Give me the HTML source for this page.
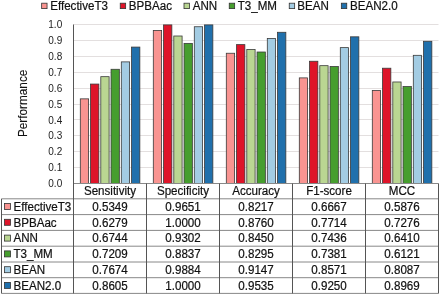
<!DOCTYPE html><html><head><meta charset="utf-8"><style>html,body{margin:0;padding:0;background:#fff;width:440px;height:295px;overflow:hidden}svg{display:block;filter:blur(0.3px)}text{font-family:"Liberation Sans",sans-serif;fill:#111;stroke:#111;stroke-width:0.2px}text.n{stroke:none;fill:#222}text.t{stroke-width:0.12px}</style></head><body>
<svg width="440" height="295" viewBox="0 0 440 295">
<line x1="73.5" y1="167.50" x2="438.5" y2="167.50" stroke="#e3dfdf" stroke-width="1"/>
<line x1="73.5" y1="151.50" x2="438.5" y2="151.50" stroke="#e3dfdf" stroke-width="1"/>
<line x1="73.5" y1="135.50" x2="438.5" y2="135.50" stroke="#e3dfdf" stroke-width="1"/>
<line x1="73.5" y1="119.50" x2="438.5" y2="119.50" stroke="#e3dfdf" stroke-width="1"/>
<line x1="73.5" y1="104.50" x2="438.5" y2="104.50" stroke="#e3dfdf" stroke-width="1"/>
<line x1="73.5" y1="88.50" x2="438.5" y2="88.50" stroke="#e3dfdf" stroke-width="1"/>
<line x1="73.5" y1="72.50" x2="438.5" y2="72.50" stroke="#e3dfdf" stroke-width="1"/>
<line x1="73.5" y1="56.50" x2="438.5" y2="56.50" stroke="#e3dfdf" stroke-width="1"/>
<line x1="73.5" y1="40.50" x2="438.5" y2="40.50" stroke="#e3dfdf" stroke-width="1"/>
<line x1="73.5" y1="24.50" x2="438.5" y2="24.50" stroke="#e3dfdf" stroke-width="1"/>
<text class="n" transform="translate(62.20,187.10)" font-size="10.0" text-anchor="end">0.0</text>
<text class="n" transform="translate(62.20,171.20)" font-size="10.0" text-anchor="end">0.1</text>
<text class="n" transform="translate(62.20,155.30)" font-size="10.0" text-anchor="end">0.2</text>
<text class="n" transform="translate(62.20,139.40)" font-size="10.0" text-anchor="end">0.3</text>
<text class="n" transform="translate(62.20,123.50)" font-size="10.0" text-anchor="end">0.4</text>
<text class="n" transform="translate(62.20,107.60)" font-size="10.0" text-anchor="end">0.5</text>
<text class="n" transform="translate(62.20,91.70)" font-size="10.0" text-anchor="end">0.6</text>
<text class="n" transform="translate(62.20,75.80)" font-size="10.0" text-anchor="end">0.7</text>
<text class="n" transform="translate(62.20,59.90)" font-size="10.0" text-anchor="end">0.8</text>
<text class="n" transform="translate(62.20,44.00)" font-size="10.0" text-anchor="end">0.9</text>
<text class="n" transform="translate(62.20,28.10)" font-size="10.0" text-anchor="end">1.0</text>
<text class="t" transform="translate(27.30,103.40) rotate(-90) scale(1,1.07)" font-size="11.8" text-anchor="middle">Performance</text>
<rect x="80.30" y="98.85" width="8.30" height="84.65" fill="#F99491" stroke="#3a3a3a" stroke-width="0.8"/>
<rect x="90.55" y="84.06" width="8.30" height="99.44" fill="#DE1429" stroke="#3a3a3a" stroke-width="0.8"/>
<rect x="100.80" y="76.67" width="8.30" height="106.83" fill="#BAD692" stroke="#3a3a3a" stroke-width="0.8"/>
<rect x="111.05" y="69.28" width="8.30" height="114.22" fill="#469E2E" stroke="#3a3a3a" stroke-width="0.8"/>
<rect x="121.30" y="61.88" width="8.30" height="121.62" fill="#A3CCE3" stroke="#3a3a3a" stroke-width="0.8"/>
<rect x="131.55" y="47.08" width="8.30" height="136.42" fill="#2070AC" stroke="#3a3a3a" stroke-width="0.8"/>
<rect x="153.30" y="30.45" width="8.30" height="153.05" fill="#F99491" stroke="#3a3a3a" stroke-width="0.8"/>
<rect x="163.55" y="24.90" width="8.30" height="158.60" fill="#DE1429" stroke="#3a3a3a" stroke-width="0.8"/>
<rect x="173.80" y="36.00" width="8.30" height="147.50" fill="#BAD692" stroke="#3a3a3a" stroke-width="0.8"/>
<rect x="184.05" y="43.39" width="8.30" height="140.11" fill="#469E2E" stroke="#3a3a3a" stroke-width="0.8"/>
<rect x="194.30" y="26.74" width="8.30" height="156.76" fill="#A3CCE3" stroke="#3a3a3a" stroke-width="0.8"/>
<rect x="204.55" y="24.90" width="8.30" height="158.60" fill="#2070AC" stroke="#3a3a3a" stroke-width="0.8"/>
<rect x="226.30" y="53.25" width="8.30" height="130.25" fill="#F99491" stroke="#3a3a3a" stroke-width="0.8"/>
<rect x="236.55" y="44.62" width="8.30" height="138.88" fill="#DE1429" stroke="#3a3a3a" stroke-width="0.8"/>
<rect x="246.80" y="49.55" width="8.30" height="133.95" fill="#BAD692" stroke="#3a3a3a" stroke-width="0.8"/>
<rect x="257.05" y="52.01" width="8.30" height="131.49" fill="#469E2E" stroke="#3a3a3a" stroke-width="0.8"/>
<rect x="267.30" y="38.46" width="8.30" height="145.04" fill="#A3CCE3" stroke="#3a3a3a" stroke-width="0.8"/>
<rect x="277.55" y="32.29" width="8.30" height="151.21" fill="#2070AC" stroke="#3a3a3a" stroke-width="0.8"/>
<rect x="299.30" y="77.89" width="8.30" height="105.61" fill="#F99491" stroke="#3a3a3a" stroke-width="0.8"/>
<rect x="309.55" y="61.25" width="8.30" height="122.25" fill="#DE1429" stroke="#3a3a3a" stroke-width="0.8"/>
<rect x="319.80" y="65.67" width="8.30" height="117.83" fill="#BAD692" stroke="#3a3a3a" stroke-width="0.8"/>
<rect x="330.05" y="66.54" width="8.30" height="116.96" fill="#469E2E" stroke="#3a3a3a" stroke-width="0.8"/>
<rect x="340.30" y="47.62" width="8.30" height="135.88" fill="#A3CCE3" stroke="#3a3a3a" stroke-width="0.8"/>
<rect x="350.55" y="36.82" width="8.30" height="146.68" fill="#2070AC" stroke="#3a3a3a" stroke-width="0.8"/>
<rect x="372.30" y="90.47" width="8.30" height="93.03" fill="#F99491" stroke="#3a3a3a" stroke-width="0.8"/>
<rect x="382.55" y="68.21" width="8.30" height="115.29" fill="#DE1429" stroke="#3a3a3a" stroke-width="0.8"/>
<rect x="392.80" y="81.98" width="8.30" height="101.52" fill="#BAD692" stroke="#3a3a3a" stroke-width="0.8"/>
<rect x="403.05" y="86.58" width="8.30" height="96.92" fill="#469E2E" stroke="#3a3a3a" stroke-width="0.8"/>
<rect x="413.30" y="55.32" width="8.30" height="128.18" fill="#A3CCE3" stroke="#3a3a3a" stroke-width="0.8"/>
<rect x="423.55" y="41.29" width="8.30" height="142.21" fill="#2070AC" stroke="#3a3a3a" stroke-width="0.8"/>
<line x1="73.5" y1="183.5" x2="438.5" y2="183.5" stroke="#888" stroke-width="1"/>
<line x1="1.5" y1="198.8" x2="438.5" y2="198.8" stroke="#888" stroke-width="1"/>
<line x1="1.5" y1="214.6" x2="438.5" y2="214.6" stroke="#888" stroke-width="1"/>
<line x1="1.5" y1="230.4" x2="438.5" y2="230.4" stroke="#888" stroke-width="1"/>
<line x1="1.5" y1="246.2" x2="438.5" y2="246.2" stroke="#888" stroke-width="1"/>
<line x1="1.5" y1="262.0" x2="438.5" y2="262.0" stroke="#888" stroke-width="1"/>
<line x1="1.5" y1="277.7" x2="438.5" y2="277.7" stroke="#888" stroke-width="1"/>
<line x1="1.5" y1="293.4" x2="438.5" y2="293.4" stroke="#888" stroke-width="1"/>
<line x1="73.5" y1="24.5" x2="73.5" y2="293.4" stroke="#555" stroke-width="1"/>
<line x1="146.50" y1="183.5" x2="146.50" y2="293.4" stroke="#555" stroke-width="1"/>
<line x1="219.50" y1="183.5" x2="219.50" y2="293.4" stroke="#555" stroke-width="1"/>
<line x1="292.50" y1="183.5" x2="292.50" y2="293.4" stroke="#555" stroke-width="1"/>
<line x1="365.50" y1="183.5" x2="365.50" y2="293.4" stroke="#555" stroke-width="1"/>
<line x1="438.50" y1="183.5" x2="438.50" y2="293.4" stroke="#555" stroke-width="1"/>
<line x1="1.5" y1="198.8" x2="1.5" y2="293.4" stroke="#555" stroke-width="1"/>
<text transform="translate(110.00,194.90) scale(1,1.07)" font-size="11.6" text-anchor="middle">Sensitivity</text>
<text transform="translate(183.00,194.90) scale(1,1.07)" font-size="11.6" text-anchor="middle">Specificity</text>
<text transform="translate(256.00,194.90) scale(1,1.07)" font-size="11.6" text-anchor="middle">Accuracy</text>
<text transform="translate(329.00,194.90) scale(1,1.07)" font-size="11.6" text-anchor="middle">F1-score</text>
<text transform="translate(402.00,194.90) scale(1,1.07)" font-size="11.6" text-anchor="middle">MCC</text>
<rect x="4.5" y="203.50" width="6" height="6" fill="#F99491" stroke="#333" stroke-width="0.8"/>
<text transform="translate(13.50,210.70) scale(1,1.07)" font-size="11.6">EffectiveT3</text>
<text transform="translate(110.00,210.70) scale(1,1.07)" font-size="11.6" text-anchor="middle">0.5349</text>
<text transform="translate(183.00,210.70) scale(1,1.07)" font-size="11.6" text-anchor="middle">0.9651</text>
<text transform="translate(256.00,210.70) scale(1,1.07)" font-size="11.6" text-anchor="middle">0.8217</text>
<text transform="translate(329.00,210.70) scale(1,1.07)" font-size="11.6" text-anchor="middle">0.6667</text>
<text transform="translate(402.00,210.70) scale(1,1.07)" font-size="11.6" text-anchor="middle">0.5876</text>
<rect x="4.5" y="219.30" width="6" height="6" fill="#DE1429" stroke="#333" stroke-width="0.8"/>
<text transform="translate(13.50,226.50) scale(1,1.07)" font-size="11.6">BPBAac</text>
<text transform="translate(110.00,226.50) scale(1,1.07)" font-size="11.6" text-anchor="middle">0.6279</text>
<text transform="translate(183.00,226.50) scale(1,1.07)" font-size="11.6" text-anchor="middle">1.0000</text>
<text transform="translate(256.00,226.50) scale(1,1.07)" font-size="11.6" text-anchor="middle">0.8760</text>
<text transform="translate(329.00,226.50) scale(1,1.07)" font-size="11.6" text-anchor="middle">0.7714</text>
<text transform="translate(402.00,226.50) scale(1,1.07)" font-size="11.6" text-anchor="middle">0.7276</text>
<rect x="4.5" y="235.10" width="6" height="6" fill="#BAD692" stroke="#333" stroke-width="0.8"/>
<text transform="translate(13.50,242.30) scale(1,1.07)" font-size="11.6">ANN</text>
<text transform="translate(110.00,242.30) scale(1,1.07)" font-size="11.6" text-anchor="middle">0.6744</text>
<text transform="translate(183.00,242.30) scale(1,1.07)" font-size="11.6" text-anchor="middle">0.9302</text>
<text transform="translate(256.00,242.30) scale(1,1.07)" font-size="11.6" text-anchor="middle">0.8450</text>
<text transform="translate(329.00,242.30) scale(1,1.07)" font-size="11.6" text-anchor="middle">0.7436</text>
<text transform="translate(402.00,242.30) scale(1,1.07)" font-size="11.6" text-anchor="middle">0.6410</text>
<rect x="4.5" y="250.90" width="6" height="6" fill="#469E2E" stroke="#333" stroke-width="0.8"/>
<text transform="translate(13.50,258.10) scale(1,1.07)" font-size="11.6">T3_MM</text>
<text transform="translate(110.00,258.10) scale(1,1.07)" font-size="11.6" text-anchor="middle">0.7209</text>
<text transform="translate(183.00,258.10) scale(1,1.07)" font-size="11.6" text-anchor="middle">0.8837</text>
<text transform="translate(256.00,258.10) scale(1,1.07)" font-size="11.6" text-anchor="middle">0.8295</text>
<text transform="translate(329.00,258.10) scale(1,1.07)" font-size="11.6" text-anchor="middle">0.7381</text>
<text transform="translate(402.00,258.10) scale(1,1.07)" font-size="11.6" text-anchor="middle">0.6121</text>
<rect x="4.5" y="266.70" width="6" height="6" fill="#A3CCE3" stroke="#333" stroke-width="0.8"/>
<text transform="translate(13.50,273.90) scale(1,1.07)" font-size="11.6">BEAN</text>
<text transform="translate(110.00,273.90) scale(1,1.07)" font-size="11.6" text-anchor="middle">0.7674</text>
<text transform="translate(183.00,273.90) scale(1,1.07)" font-size="11.6" text-anchor="middle">0.9884</text>
<text transform="translate(256.00,273.90) scale(1,1.07)" font-size="11.6" text-anchor="middle">0.9147</text>
<text transform="translate(329.00,273.90) scale(1,1.07)" font-size="11.6" text-anchor="middle">0.8571</text>
<text transform="translate(402.00,273.90) scale(1,1.07)" font-size="11.6" text-anchor="middle">0.8087</text>
<rect x="4.5" y="282.40" width="6" height="6" fill="#2070AC" stroke="#333" stroke-width="0.8"/>
<text transform="translate(13.50,289.60) scale(1,1.07)" font-size="11.6">BEAN2.0</text>
<text transform="translate(110.00,289.60) scale(1,1.07)" font-size="11.6" text-anchor="middle">0.8605</text>
<text transform="translate(183.00,289.60) scale(1,1.07)" font-size="11.6" text-anchor="middle">1.0000</text>
<text transform="translate(256.00,289.60) scale(1,1.07)" font-size="11.6" text-anchor="middle">0.9535</text>
<text transform="translate(329.00,289.60) scale(1,1.07)" font-size="11.6" text-anchor="middle">0.9250</text>
<text transform="translate(402.00,289.60) scale(1,1.07)" font-size="11.6" text-anchor="middle">0.8969</text>
<rect x="41.65" y="3.2" width="5.4" height="5.4" fill="#F99491" stroke="#333" stroke-width="0.8"/>
<text transform="translate(50.20,9.80) scale(1,1.07)" font-size="11.6">EffectiveT3</text>
<rect x="120.25" y="3.2" width="5.4" height="5.4" fill="#DE1429" stroke="#333" stroke-width="0.8"/>
<text transform="translate(128.85,9.80) scale(1,1.07)" font-size="11.6">BPBAac</text>
<rect x="184.00" y="3.2" width="5.4" height="5.4" fill="#BAD692" stroke="#333" stroke-width="0.8"/>
<text transform="translate(192.70,9.80) scale(1,1.07)" font-size="11.6">ANN</text>
<rect x="229.25" y="3.2" width="5.4" height="5.4" fill="#469E2E" stroke="#333" stroke-width="0.8"/>
<text transform="translate(237.75,9.80) scale(1,1.07)" font-size="11.6">T3_MM</text>
<rect x="289.25" y="3.2" width="5.4" height="5.4" fill="#A3CCE3" stroke="#333" stroke-width="0.8"/>
<text transform="translate(297.35,9.80) scale(1,1.07)" font-size="11.6">BEAN</text>
<rect x="341.35" y="3.2" width="5.4" height="5.4" fill="#2070AC" stroke="#333" stroke-width="0.8"/>
<text transform="translate(349.95,9.80) scale(1,1.07)" font-size="11.6">BEAN2.0</text>
</svg></body></html>
